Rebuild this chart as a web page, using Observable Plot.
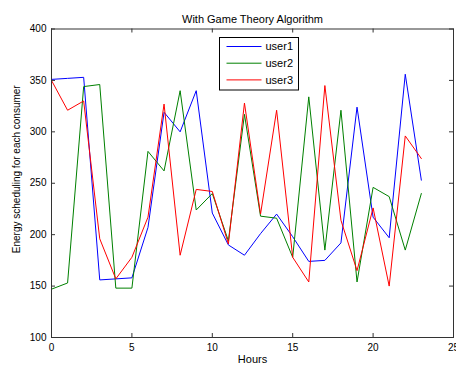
<!DOCTYPE html>
<html>
<head>
<meta charset="utf-8">
<script src="https://cdn.jsdelivr.net/npm/d3@7"></script>
<script src="https://cdn.jsdelivr.net/npm/@observablehq/plot@0.6"></script>
<style>
  html, body { margin: 0; padding: 0; background: #fff; }
  svg { display: block; }
</style>
</head>
<body>
<div id="chart"></div>
<script>
const titleText = "With Game Theory Algorithm";
const xLabel = "Hours";
const yLabel = "Energy scheduling for each consumer";
const seriesNames = ["user1", "user2", "user3"];
const seriesColors = ["#0000ff", "#008000", "#ff0000"];
const hours = [0,1,2,3,4,5,6,7,8,9,10,11,12,13,14,15,16,17,18,19,20,21,22,23];
const user1 = [351,352,353,156,157,158,207,319,300,340,221,190,180,201,220,198,174,175,192,324,217,197,356,253];
const user2 = [147,153,344,346,148,148,281,262,340,224,240,194,317,218,216,178,334,185,321,154,246,237,185,240];
const user3 = [350,321,330,196,157,178,217,327,180,244,242,191,328,220,321,178,154,345,214,165,226,150,296,274];
const xTicks = [0,5,10,15,20,25];
const yTicks = [100,150,200,250,300,350,400];

const allSeries = [user1, user2, user3];
const data = [];
seriesNames.forEach((name, i) => {
  hours.forEach((h, j) => data.push({hour: h, value: allSeries[i][j], series: name}));
});

const W = 456, H = 369;
const mL = 51, mR = 3, mT = 28.5, mB = 32;
const tickLen = 4;
const frameH = H - mT - mB;
const frameW = W - mL - mR;
const axisColor = "#333";

const chart = Plot.plot({
  width: W,
  height: H,
  marginLeft: mL,
  marginRight: mR,
  marginTop: mT,
  marginBottom: mB,
  style: {fontFamily: "Liberation Sans, Arial, sans-serif", background: "#fff", color: "#000"},
  x: {domain: [0, 25], label: null},
  y: {domain: [100, 400], label: null},
  color: {domain: seriesNames, range: seriesColors},
  marks: [
    Plot.axisX({ticks: xTicks, tickSize: 0, tickPadding: 6, fontSize: 10, label: null}),
    Plot.axisY({ticks: yTicks, tickSize: 0, tickPadding: 5, fontSize: 10, label: null}),
    Plot.tickX(xTicks, {x: d => d, insetTop: frameH - tickLen, stroke: axisColor}),
    Plot.tickX(xTicks, {x: d => d, insetBottom: frameH - tickLen, stroke: axisColor}),
    Plot.tickY(yTicks, {y: d => d, insetRight: frameW - tickLen, stroke: axisColor}),
    Plot.tickY(yTicks, {y: d => d, insetLeft: frameW - tickLen, stroke: axisColor}),
    Plot.line(data, {x: "hour", y: "value", z: "series", stroke: "series", strokeWidth: 1}),
    Plot.frame({stroke: axisColor, strokeWidth: 1}),
    Plot.text([titleText], {frameAnchor: "top", dy: -13.5, fontSize: 11, fill: "#000"}),
    Plot.text([xLabel], {frameAnchor: "bottom", dy: 25.5, fontSize: 11, fill: "#000"}),
    Plot.text([yLabel], {frameAnchor: "left", dx: -34.5, dy: -14, rotate: -90, textAnchor: "middle", fontSize: 10, fill: "#000"})
  ]
});

// Legend box inside the axes (top center)
const svg = d3.select(chart);
const lg = svg.append("g").attr("font-family", "Liberation Sans, Arial, sans-serif").attr("font-size", 11);
lg.append("rect").attr("x", 219.5).attr("y", 37.5).attr("width", 79).attr("height", 52.5)
  .attr("fill", "#fff").attr("stroke", "#000").attr("stroke-width", 1);
seriesNames.forEach((name, i) => {
  const yy = 46.5 + i * 16.7;
  lg.append("line").attr("x1", 226.5).attr("x2", 261.5).attr("y1", yy).attr("y2", yy)
    .attr("stroke", seriesColors[i]).attr("stroke-width", 1);
  lg.append("text").attr("x", 265.5).attr("y", yy).attr("dy", "0.35em")
    .attr("text-anchor", "start").attr("fill", "#000").text(name);
});

document.getElementById("chart").appendChild(chart);
</script>
</body>
</html>
